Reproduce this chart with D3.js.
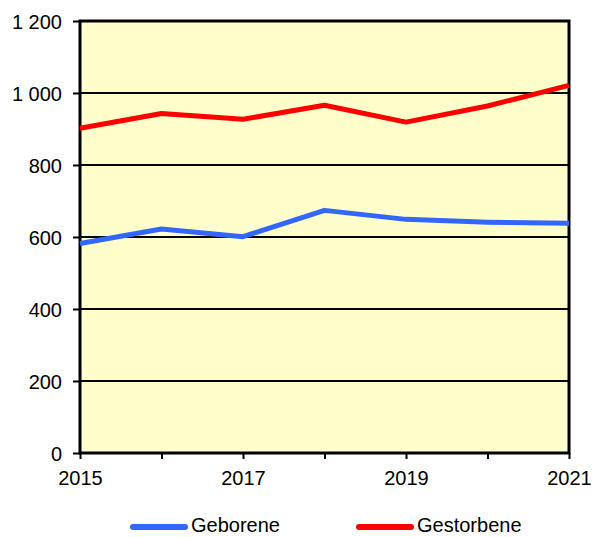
<!DOCTYPE html>
<html>
<head>
<meta charset="utf-8">
<script src="https://cdn.jsdelivr.net/npm/d3@7"></script>
<style>
  body { margin: 0; background: #fff; }
  text { font-family: "Liberation Sans", Arial, sans-serif; }
</style>
</head>
<body>
<svg id="chart"></svg>
<script>
const years = [2015, 2016, 2017, 2018, 2019, 2020, 2021];
const geborene = [582, 622, 601, 674, 649, 641, 638];
const gestorbene = [902, 943, 927, 966, 919, 964, 1021];
const yTicks = [0, 200, 400, 600, 800, 1000, 1200];
const xLabels = [2015, 2017, 2019, 2021];

const width = 594, height = 537;
const margin = { top: 21, right: 25, bottom: 84, left: 80 };

const svg = d3.select("#chart").attr("width", width).attr("height", height);

const x = d3.scaleLinear().domain([2015, 2021]).range([margin.left, width - margin.right]);
const y = d3.scaleLinear().domain([0, 1200]).range([height - margin.bottom, margin.top]);

const fmt = d3.formatLocale({ decimal: ",", thousands: "\u00a0", grouping: [3], currency: ["", ""] }).format(",");

// plot background
svg.append("rect")
  .attr("x", x(2015)).attr("y", y(1200))
  .attr("width", x(2021) - x(2015)).attr("height", y(0) - y(1200))
  .attr("fill", "#ffffcc");

// gridlines
svg.append("g")
  .selectAll("line")
  .data(yTicks.filter(d => d > 0 && d < 1200))
  .join("line")
  .attr("x1", x(2015)).attr("x2", x(2021))
  .attr("y1", d => y(d)).attr("y2", d => y(d))
  .attr("stroke", "#000").attr("stroke-width", 2);

// y axis
const yAxis = svg.append("g")
  .attr("transform", `translate(${x(2015)},0)`)
  .call(d3.axisLeft(y).tickValues(yTicks).tickFormat(fmt).tickSize(7).tickPadding(11));
yAxis.select(".domain").remove();
yAxis.selectAll("line").attr("stroke", "#000").attr("stroke-width", 2);
yAxis.selectAll("text").style("font-size", "20px").attr("fill", "#000").attr("dy", "0.36em");

// x axis
const xAxis = svg.append("g")
  .attr("transform", `translate(0,${y(0)})`)
  .call(d3.axisBottom(x).tickValues(years).tickFormat(d => xLabels.includes(d) ? d : "").tickSize(6).tickPadding(12));
xAxis.select(".domain").remove();
xAxis.selectAll("line").attr("stroke", "#000").attr("stroke-width", 2);
xAxis.selectAll("text").style("font-size", "20px").attr("fill", "#000");

// frame
svg.append("rect")
  .attr("x", x(2015)).attr("y", y(1200))
  .attr("width", x(2021) - x(2015)).attr("height", y(0) - y(1200))
  .attr("fill", "none").attr("stroke", "#000").attr("stroke-width", 3);

const series = [
  { name: "Geborene", values: geborene, color: "#3366ff" },
  { name: "Gestorbene", values: gestorbene, color: "#ff0000" }
];

const line = d3.line().x((d, i) => x(years[i])).y(d => y(d));

svg.append("g")
  .selectAll("path")
  .data(series)
  .join("path")
  .attr("d", s => line(s.values))
  .attr("fill", "none")
  .attr("stroke", s => s.color)
  .attr("stroke-width", 5)
  .attr("stroke-linejoin", "round");

// legend
const legend = svg.append("g")
  .selectAll("g")
  .data(series)
  .join("g")
  .attr("transform", (s, i) => `translate(${131 + i * 226},527)`);
legend.append("line")
  .attr("x1", 2).attr("x2", 54)
  .attr("stroke", s => s.color).attr("stroke-width", 6).attr("stroke-linecap", "round");
legend.append("text")
  .attr("x", 60).attr("y", 5)
  .style("font-size", "20px")
  .text(s => s.name);
</script>
</body>
</html>
